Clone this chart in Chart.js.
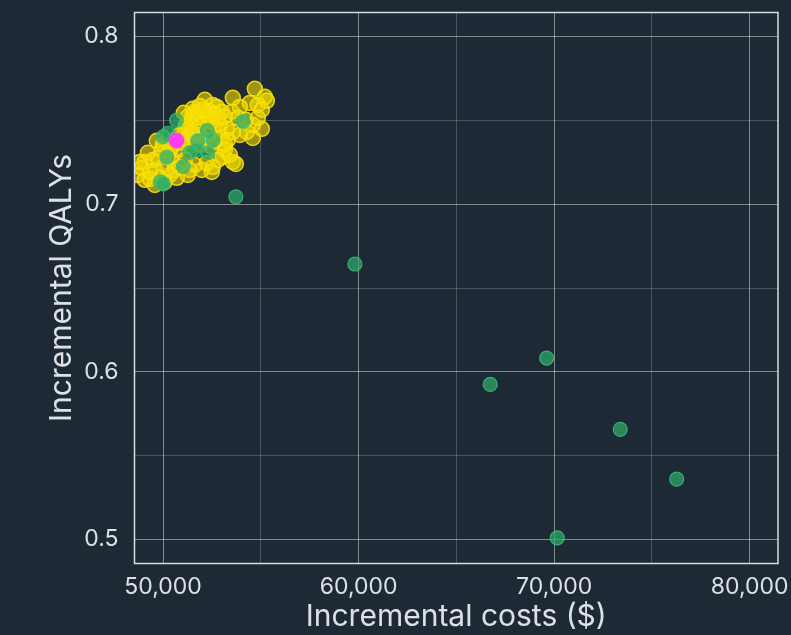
<!DOCTYPE html>
<html>
<head>
<meta charset="utf-8">
<script src="https://cdn.jsdelivr.net/npm/chart.js@4.4.1/dist/chart.umd.min.js"></script>
<style>
  html, body { margin: 0; padding: 0; background: #1e2936; }
  #wrap { width: 791px; height: 635px; }
</style>
</head>
<body>
<div id="wrap"><canvas id="chart" width="791" height="635"></canvas></div>
<script>
// Probabilistic sensitivity analysis: incremental cost vs incremental QALYs

// Simulation draws (yellow)
const psaCosts = [
  54692, 55203, 55306, 54436, 54845, 53566, 53924, 53515, 54589, 55050,
  54589, 54283, 53924, 53566, 53259, 52901, 54231, 54845, 53822, 55050,
  52134, 52543, 52748, 51520, 51520, 51264, 51878, 52338, 52645, 53004,
  51776, 52134, 52492, 51366, 51162, 51878, 52799, 52287, 51622, 52031,
  53157, 51059,
  51111, 51469, 51878, 52390, 52799, 53004, 52134, 51622, 51264, 50855,
  52645, 53157, 52492, 51366, 50957, 50599, 51878, 53310, 50446, 50752,
  49678, 49985, 49064, 48706, 49320, 50343, 50855, 49473, 49934, 49218,
  48911, 49576, 50087, 50446, 49832, 49064, 50241, 50599, 49729, 49320,
  48808, 50087, 50701, 49576, 50343,
  51980, 52543, 53157, 53566, 53720, 53055, 51622, 51366, 52236, 52799,
  51111, 53413, 52492, 51264
];
const psaQalys = [
  0.7688, 0.7640, 0.7616, 0.7604, 0.7592, 0.7634, 0.7580, 0.7551, 0.7473, 0.7449,
  0.7395, 0.7431, 0.7413, 0.7431, 0.7449, 0.7479, 0.7503, 0.7515, 0.7515, 0.7563,
  0.7622, 0.7592, 0.7580, 0.7569, 0.7533, 0.7521, 0.7586, 0.7557, 0.7539, 0.7551,
  0.7515, 0.7503, 0.7491, 0.7491, 0.7467, 0.7473, 0.7515, 0.7527, 0.7551, 0.7563,
  0.7521, 0.7545,
  0.7443, 0.7431, 0.7413, 0.7425, 0.7443, 0.7395, 0.7383, 0.7383, 0.7395, 0.7413,
  0.7372, 0.7354, 0.7342, 0.7348, 0.7366, 0.7383, 0.7354, 0.7383, 0.7342, 0.7324,
  0.7378, 0.7354, 0.7252, 0.7174, 0.7151, 0.7174, 0.7222, 0.7264, 0.7324, 0.7306,
  0.7216, 0.7204, 0.7234, 0.7264, 0.7157, 0.7145, 0.7282, 0.7204, 0.7276, 0.7192,
  0.7252, 0.7133, 0.7157, 0.7115, 0.7324,
  0.7204, 0.7222, 0.7324, 0.7252, 0.7240, 0.7282, 0.7234, 0.7204, 0.7246, 0.7264,
  0.7264, 0.7294, 0.7192, 0.7174
];

// Alternative scenarios (green)
const scenarioCosts = [
  50686, 50256, 50000, 52262, 52558, 51776, 51725, 51366, 52287, 50190,
  51034, 49857, 50011, 54093, 53720,
  59808, 66730, 69615, 73381, 76266, 70157
];
const scenarioQalys = [
  0.7500, 0.7423, 0.7401, 0.7440, 0.7383, 0.7378, 0.7324, 0.7308, 0.7306, 0.7280,
  0.7224, 0.7133, 0.7121, 0.7494, 0.7044,
  0.6643, 0.5925, 0.6082, 0.5657, 0.5360, 0.5010
];

// Base case (magenta)
const baseCosts = [50686];
const baseQalys = [0.7379];

// Axis ranges and grid positions (labels only on the round values)
const xRange = [48537, 81448];
const yRange = [0.4857, 0.8143];
const xTickValues = [50000, 55000, 60000, 65000, 70000, 75000, 80000];
const yTickValues = [0.5, 0.55, 0.6, 0.65, 0.7, 0.75, 0.8];
const xLabelled = [50000, 60000, 70000, 80000];
const yLabelled = [0.5, 0.6, 0.7, 0.8];

const toPoints = (xs, ys) => xs.map((x, i) => ({ x: x, y: ys[i] }));

const TEXT = '#dde1e6';
const FONT = 'Inter, "Noto Sans", sans-serif';
const GRID_MAJOR = 'rgba(255,255,255,0.45)';
const GRID_MINOR = 'rgba(255,255,255,0.2)';

const hasValue = (list, v) => list.some(t => Math.abs(t - v) < 1e-9 * Math.max(1, Math.abs(t)));

// Frame drawn over the plot area, above the markers
const frame = {
  id: 'frame',
  afterDatasetsDraw(chart) {
    const { ctx, chartArea: a } = chart;
    ctx.save();
    ctx.strokeStyle = '#d9dde2';
    ctx.lineWidth = 1.5;
    ctx.strokeRect(a.left, a.top, a.right - a.left, a.bottom - a.top);
    ctx.restore();
  }
};

new Chart(document.getElementById('chart'), {
  type: 'scatter',
  data: {
    datasets: [
      {
        label: 'Base case',
        data: toPoints(baseCosts, baseQalys),
        backgroundColor: '#ff3cf8',
        borderColor: '#ff3cf8',
        borderWidth: 1,
        pointRadius: 7.5,
        order: 0
      },
      {
        label: 'Scenarios',
        data: toPoints(scenarioCosts, scenarioQalys),
        backgroundColor: 'rgba(44, 172, 106, 0.72)',
        borderColor: 'rgba(60, 190, 120, 0.85)',
        borderWidth: 1.2,
        pointRadius: 7,
        order: 1
      },
      {
        label: 'PSA',
        data: toPoints(psaCosts, psaQalys),
        backgroundColor: 'rgba(246, 222, 0, 0.6)',
        borderColor: 'rgba(250, 226, 10, 0.9)',
        borderWidth: 1.5,
        pointRadius: 7.5,
        order: 2
      }
    ]
  },
  options: {
    responsive: false,
    animation: false,
    events: [],
    layout: { padding: { top: 12.5, right: 13, left: 0, bottom: 0 } },
    plugins: {
      legend: { display: false },
      tooltip: { enabled: false }
    },
    scales: {
      x: {
        type: 'linear',
        min: xRange[0],
        max: xRange[1],
        afterBuildTicks(scale) { scale.ticks = xTickValues.map(v => ({ value: v })); },
        afterFit(scale) {
          scale.height = 71.5;
          scale.paddingLeft = 0;
          scale.paddingRight = 0;
        },
        border: { display: false },
        grid: {
          drawTicks: false,
          lineWidth: 1,
          color: ctx => (ctx.tick && hasValue(xLabelled, ctx.tick.value)) ? GRID_MAJOR : GRID_MINOR
        },
        ticks: {
          autoSkip: false,
          maxRotation: 0,
          padding: 10,
          color: TEXT,
          font: { family: FONT, size: 23 },
          callback: v => hasValue(xLabelled, v) ? Math.round(v).toLocaleString('en-US') : ''
        },
        title: {
          display: true,
          text: 'Incremental costs ($)',
          color: TEXT,
          font: { family: FONT, size: 30 },
          padding: { top: 0, bottom: 0 }
        }
      },
      y: {
        type: 'linear',
        min: yRange[0],
        max: yRange[1],
        afterBuildTicks(scale) { scale.ticks = yTickValues.map(v => ({ value: v })); },
        afterFit(scale) {
          scale.width = 134.5;
          scale.paddingTop = 0;
          scale.paddingBottom = 0;
        },
        border: { display: false },
        grid: {
          drawTicks: false,
          lineWidth: 1,
          color: ctx => (ctx.tick && hasValue(yLabelled, ctx.tick.value)) ? GRID_MAJOR : GRID_MINOR
        },
        ticks: {
          autoSkip: false,
          padding: 16,
          color: TEXT,
          font: { family: FONT, size: 23 },
          callback: v => hasValue(yLabelled, v) ? v.toFixed(1) : ''
        },
        title: {
          display: true,
          text: 'Incremental QALYs',
          color: TEXT,
          font: { family: FONT, size: 30 },
          padding: { top: 44, bottom: 0 }
        }
      }
    }
  },
  plugins: [frame]
});
</script>
</body>
</html>
